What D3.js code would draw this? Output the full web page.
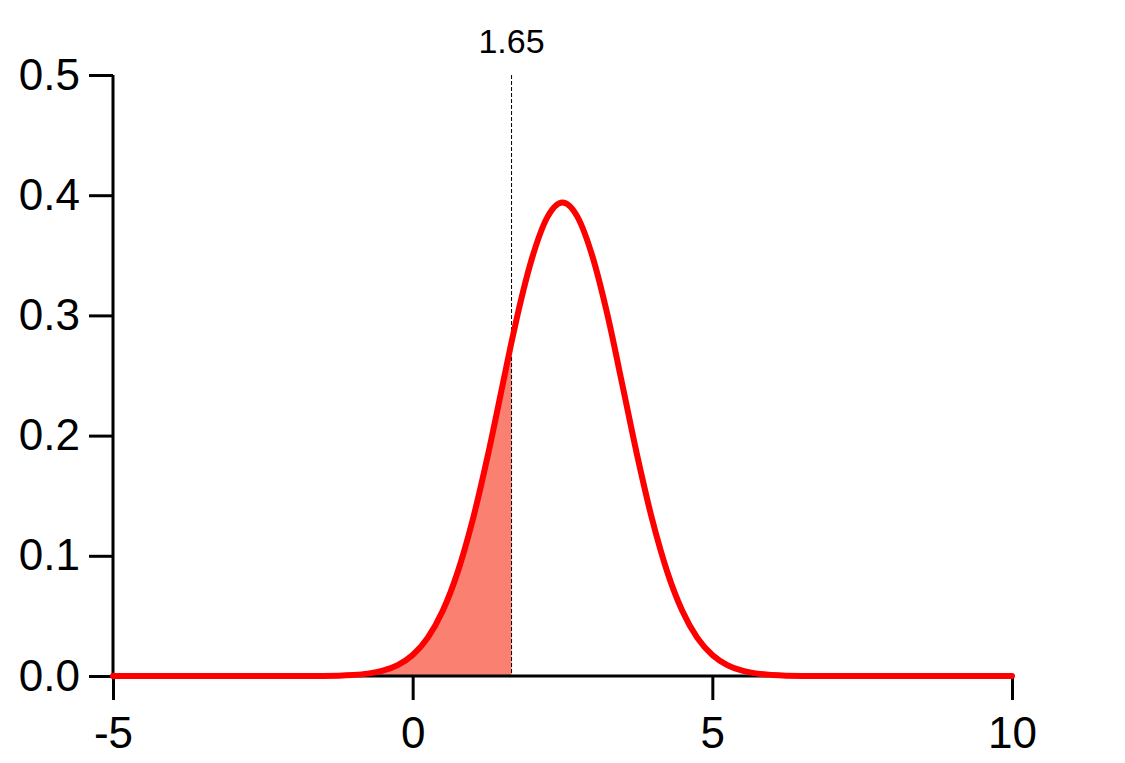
<!DOCTYPE html>
<html><head><meta charset="utf-8">
<script src="https://cdn.jsdelivr.net/npm/d3@7"></script>
<style>
html,body{margin:0;padding:0;background:#fff;}
svg{display:block;}
text{font-family:"Liberation Sans",Arial,Helvetica,sans-serif;}
</style></head>
<body>
<svg id="chart" width="1125" height="763"></svg>
<script>
// values
const xValues = [-5, -4, -3, -2, -1.5, -1, -0.75, -0.5, -0.25, 0, 0.25, 0.5, 0.75, 1, 1.25, 1.5, 1.65, 1.75, 2, 2.25, 2.5, 2.75, 3, 3.25, 3.5, 3.75, 4, 4.25, 4.5, 4.75, 5, 5.25, 5.5, 5.75, 6, 6.5, 7, 8, 9, 10];
const yValues = [0, 0, 0, 0, 0.0001, 0.0009, 0.002, 0.0044, 0.0091, 0.0175, 0.0317, 0.054, 0.0863, 0.1295, 0.1826, 0.242, 0.278, 0.3005, 0.349, 0.382, 0.394, 0.382, 0.349, 0.3005, 0.242, 0.1826, 0.1295, 0.0863, 0.054, 0.0317, 0.0175, 0.0091, 0.0044, 0.002, 0.0009, 0.0001, 0, 0, 0, 0];
const xTicks = [-5, 0, 5, 10];
const yTicks = [0, 0.1, 0.2, 0.3, 0.4, 0.5];
const cutoff = 1.65;
const cutoffLabel = "1.65";

const data = xValues.map((x, i) => ({x, y: yValues[i]}));
const svg = d3.select("#chart");
const L = 113, R = 1012, T = 75, B = 676;
const x = d3.scaleLinear().domain([-5, 10]).range([L, R]);
const y = d3.scaleLinear().domain([0, 0.5]).range([B, T]);
const curve = d3.curveMonotoneX;

// shaded area up to cutoff
const areaData = data.filter(d => d.x <= cutoff);
svg.append("path")
  .datum(areaData)
  .attr("fill", "#fa8072")
  .attr("d", d3.area().x(d => x(d.x)).y0(y(0)).y1(d => y(d.y)).curve(curve));

// axes
const xAxis = svg.append("g").attr("transform", `translate(0,${B})`)
  .call(d3.axisBottom(x).tickValues(xTicks).tickFormat(d => String(d)).tickSize(24).tickSizeOuter(0).tickPadding(17));
const yAxis = svg.append("g").attr("transform", `translate(${L},0)`)
  .call(d3.axisLeft(y).tickValues(yTicks).tickFormat(d => d.toFixed(1)).tickSize(24).tickSizeOuter(0).tickPadding(9));
[xAxis, yAxis].forEach(g => {
  g.selectAll("path,line").attr("stroke", "#000").attr("stroke-width", 3);
  g.selectAll("text").attr("fill", "#000").attr("font-size", 44).attr("font-family", "'Liberation Sans',Arial,sans-serif");
});
xAxis.select(".domain").attr("d", `M${L},0H${R}`);
yAxis.select(".domain").attr("d", `M0,${T}V${B}`);

// dashed cutoff line
svg.append("line")
  .attr("x1", x(cutoff)).attr("x2", x(cutoff))
  .attr("y1", y(0.5)).attr("y2", y(0))
  .attr("stroke", "#000").attr("stroke-width", 1).attr("stroke-dasharray", "4,2");
svg.append("text")
  .attr("x", x(cutoff)).attr("y", 53)
  .attr("text-anchor", "middle").attr("font-size", 34).attr("fill", "#000")
  .text(cutoffLabel);

// curve
svg.append("path")
  .datum(data)
  .attr("fill", "none").attr("stroke", "#ff0000").attr("stroke-width", 6)
  .attr("stroke-linecap", "round").attr("stroke-linejoin", "round")
  .attr("d", d3.line().x(d => x(d.x)).y(d => y(d.y)).curve(curve));
</script>
</body></html>
